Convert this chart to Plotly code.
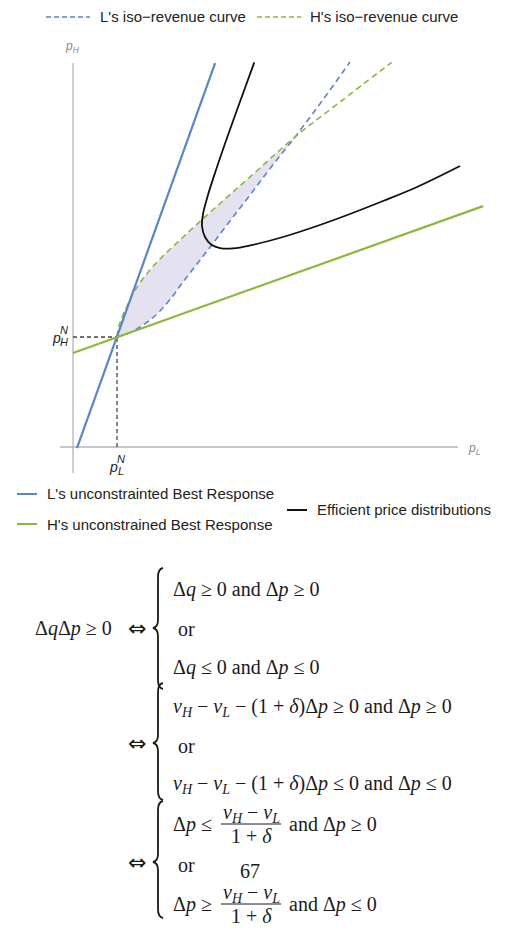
import plotly.graph_objects as go

W, H = 509, 941

# ---------------- data (units: p_L^N = 1, p_H^N = 1) ----------------
nash_pL = [1.0]
nash_pH = [1.0]

br_L_pL = [0.09, 3.23]          # L's unconstrained best response
br_L_pH = [-0.01, 3.49]
br_H_pL = [0.0, 9.32]           # H's unconstrained best response
br_H_pH = [0.855, 2.19]

iso_L_pL = [1.000, 1.25, 1.523, 1.75, 1.977, 2.25, 2.5, 2.818, 3.152, 3.568, 4.023, 4.523, 5.045, 5.659, 6.295]
iso_L_pH = [1.000, 1.032, 1.091, 1.155, 1.236, 1.364, 1.5, 1.664, 1.836, 2.055, 2.291, 2.555, 2.818, 3.145, 3.500]

iso_H_pL = [1.000, 1.045, 1.136, 1.250, 1.386, 1.636, 1.977, 2.432, 2.925, 3.455, 4.023, 5.045, 6.068, 7.243]
iso_H_pH = [1.000, 1.100, 1.200, 1.300, 1.409, 1.555, 1.709, 1.882, 2.064, 2.255, 2.455, 2.818, 3.136, 3.497]

eff_pL = [4.120, 3.818, 3.523, 3.250, 3.068, 2.955, 2.932, 3.000, 3.152, 3.341, 3.636,
          4.023, 4.773, 5.545, 6.295, 7.045, 7.818, 8.795]
eff_pH = [3.497, 3.164, 2.836, 2.518, 2.291, 2.118, 2.009, 1.909, 1.836, 1.809, 1.806,
          1.832, 1.909, 2.009, 2.118, 2.236, 2.364, 2.555]

axis_pL_extent = [-0.295, 8.75]
axis_pH_extent = [-0.236, 3.491]

legend_top = ["L's iso\u2212revenue curve", "H's iso\u2212revenue curve"]
legend_bottom = ["L's unconstrainted Best Response", "H's unconstrained Best Response",
                 "Efficient price distributions"]

# ---------------- styles ----------------
BLUE = "#5b86c3"
GREEN = "#8db63c"
BLACK = "#111111"
AXIS = "#b4b4b4"
FILL = "rgba(205,200,230,0.55)"

# pixel mapping of the data area: pL=0 at x=73, 1 unit=44px ; pH=0 at y=447, 1 unit=110px
X0, SX = 73, 44
Y0, SY = 447, 110
xr = [(0 - X0) / SX, (W - X0) / SX]
yr = [(Y0 - H) / SY, Y0 / SY]

def px(x):
    return x / W

def py(y):
    return 1 - y / H

fig = go.Figure()

# shaded region between the two iso-revenue curves (up to their crossing)
k = iso_H_pL.index(5.045)
j = iso_L_pL.index(5.045)
fig.add_trace(go.Scatter(
    x=iso_H_pL[:k + 1] + iso_L_pL[:j + 1][::-1],
    y=iso_H_pH[:k + 1] + iso_L_pH[:j + 1][::-1],
    fill="toself", fillcolor=FILL, mode="lines", line=dict(width=0),
    hoverinfo="skip", showlegend=False))

# axes
fig.add_trace(go.Scatter(x=[0, 0], y=axis_pH_extent, mode="lines",
                         line=dict(color=AXIS, width=1.3), showlegend=False, hoverinfo="skip"))
fig.add_trace(go.Scatter(x=axis_pL_extent, y=[0, 0], mode="lines",
                         line=dict(color=AXIS, width=1.3), showlegend=False, hoverinfo="skip"))

# dashed guides to Nash point
fig.add_trace(go.Scatter(x=[0, nash_pL[0]], y=[nash_pH[0], nash_pH[0]], mode="lines",
                         line=dict(color="#444444", width=1.3, dash="4px,3px"), showlegend=False))
fig.add_trace(go.Scatter(x=[nash_pL[0], nash_pL[0]], y=[0, nash_pH[0]], mode="lines",
                         line=dict(color="#444444", width=1.3, dash="4px,3px"), showlegend=False))

# iso-revenue curves
fig.add_trace(go.Scatter(x=iso_L_pL, y=iso_L_pH, mode="lines", line_shape="spline",
                         line=dict(color=BLUE, width=1.6, dash="6px,4px"), showlegend=False))
fig.add_trace(go.Scatter(x=iso_H_pL, y=iso_H_pH, mode="lines", line_shape="spline",
                         line=dict(color=GREEN, width=1.6, dash="6px,4px"), showlegend=False))

# best responses
fig.add_trace(go.Scatter(x=br_L_pL, y=br_L_pH, mode="lines",
                         line=dict(color=BLUE, width=2.2), showlegend=False))
fig.add_trace(go.Scatter(x=br_H_pL, y=br_H_pH, mode="lines",
                         line=dict(color=GREEN, width=2.2), showlegend=False))

# efficient price distributions
fig.add_trace(go.Scatter(x=eff_pL, y=eff_pH, mode="lines", line_shape="spline",
                         line=dict(color=BLACK, width=1.8), showlegend=False))

ann = []
shapes = []

def text(x, y, s, size=15, color="#222222", family="Liberation Sans, Arial, sans-serif",
         xanchor="left", yanchor="middle"):
    ann.append(dict(x=px(x), y=py(y), xref="paper", yref="paper", text=s, showarrow=False,
                    xanchor=xanchor, yanchor=yanchor,
                    font=dict(size=size, color=color, family=family)))

def seg(x0, y0, x1, y1, color, width=2, dash="solid"):
    shapes.append(dict(type="line", xref="paper", yref="paper", x0=px(x0), y0=py(y0),
                       x1=px(x1), y1=py(y1), line=dict(color=color, width=width, dash=dash)))

# axis labels
text(72, 47, "<i>p</i><sub><i>H</i></sub>", size=12, color="#888888", xanchor="center")
text(474, 449, "<i>p</i><sub><i>L</i></sub>", size=12, color="#888888", xanchor="center")
# p_H^N and p_L^N
text(56, 338, "<i>p</i>", size=14, color="#222222", xanchor="center")
text(64, 330, "<i>N</i>", size=11, color="#222222", xanchor="center")
text(64, 342, "<i>H</i>", size=11, color="#222222", xanchor="center")
text(113, 467, "<i>p</i>", size=14, color="#222222", xanchor="center")
text(121, 459, "<i>N</i>", size=11, color="#222222", xanchor="center")
text(121, 471, "<i>L</i>", size=11, color="#222222", xanchor="center")

# top legend
seg(46, 17, 90, 17, BLUE, 1.6, "5px,3px")
text(98, 17, legend_top[0])
seg(257, 17, 301, 17, GREEN, 1.6, "5px,3px")
text(308, 17, legend_top[1])

# bottom legend
seg(17, 494, 37, 494, BLUE, 2)
text(45, 494, legend_bottom[0])
seg(17, 524, 37, 524, GREEN, 2)
text(45, 524, legend_bottom[1])
seg(287, 510, 307, 510, BLACK, 2)
text(315, 510, legend_bottom[2])

# ---------------- equations ----------------
SERIF = "Liberation Serif, Times New Roman, serif"
ES = 20
EC = "#1a1a1a"

def brace(x, y0, ym, y1):
    # left curly brace drawn in paper coords
    pts = [
        f"M {px(x+6)},{py(y0)}",
        f"Q {px(x+1)},{py(y0+1)} {px(x+1)},{py(y0+9)}",
        f"L {px(x+1)},{py(ym-8)}",
        f"Q {px(x+1)},{py(ym-1)} {px(x-4)},{py(ym)}",
        f"Q {px(x+1)},{py(ym+1)} {px(x+1)},{py(ym+8)}",
        f"L {px(x+1)},{py(y1-9)}",
        f"Q {px(x+1)},{py(y1-1)} {px(x+6)},{py(y1)}",
    ]
    shapes.append(dict(type="path", xref="paper", yref="paper", path=" ".join(pts),
                       line=dict(color=EC, width=1.8)))

def eq(x, y, s, xanchor="left", size=ES, family=SERIF):
    text(x, y, s, size=size, color=EC, family=family, xanchor=xanchor)

def iff(y):
    eq(137, y, "\u21d4", xanchor="center", size=22, family="DejaVu Sans, sans-serif")

dq = "\u0394<i>q</i>"
dp = "\u0394<i>p</i>"
vH = "<i>v</i><sub><i>H</i></sub>"
vL = "<i>v</i><sub><i>L</i></sub>"

# block 1
eq(33, 628, f"{dq}{dp} \u2265 0")
iff(628)
brace(157, 568, 628, 689)
eq(171, 589, f"{dq} \u2265 0 and {dp} \u2265 0")
eq(176, 629, "or")
eq(171, 667, f"{dq} \u2264 0 and {dp} \u2264 0")

# block 2
iff(743)
brace(157, 683, 743, 800)
eq(171, 707, f"{vH} \u2212 {vL} \u2212 (1 + <i>\u03b4</i>){dp} \u2265 0 and {dp} \u2265 0")
eq(176, 746, "or")
eq(171, 784, f"{vH} \u2212 {vL} \u2212 (1 + <i>\u03b4</i>){dp} \u2264 0 and {dp} \u2264 0")

# block 3
iff(862)
brace(157, 801, 862, 918)
for yc, rel1, rel2 in ((824, "\u2264", "\u2265"), (904, "\u2265", "\u2264")):
    eq(171, yc, f"{dp} {rel1}")
    eq(251, yc - 11, f"{vH} \u2212 {vL}", xanchor="center")
    seg(221, yc, 281, yc, EC, 1)
    eq(251, yc + 12, "1 + <i>\u03b4</i>", xanchor="center")
    eq(287, yc, f"and {dp} {rel2} 0")
eq(176, 865, "or")
eq(250, 871, "67", xanchor="center")

fig.update_layout(
    width=W, height=H, margin=dict(l=0, r=0, t=0, b=0),
    paper_bgcolor="white", plot_bgcolor="white",
    xaxis=dict(range=xr, visible=False, domain=[0, 1], fixedrange=True),
    yaxis=dict(range=yr, visible=False, domain=[0, 1], fixedrange=True),
    annotations=ann, shapes=shapes, showlegend=False,
)

fig.write_html("out.html")
